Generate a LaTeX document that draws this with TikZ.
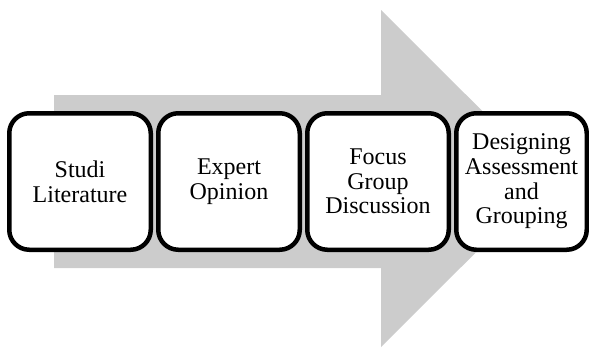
\documentclass[tikz,border=0pt]{standalone}
\usepackage{fontspec}
\setmainfont{Liberation Serif}
\usetikzlibrary{positioning}

\begin{document}
\begin{tikzpicture}[x=1pt, y=-1pt]
  \newcommand\stagegap{3pt}
  \newcommand\stagelw{4.5pt}

  \definecolor{arrowgray}{RGB}{204,204,204}

  \tikzset{bigarrow/.style={fill=arrowgray}}
  \tikzset{stagebox/.style={draw, line width=\stagelw, rounded corners=20pt, fill=white, minimum width=141.5pt, minimum height=136.5pt, inner sep=0pt, align=center, font=\fontsize{24}{24.7}\selectfont}}
  \tikzset{laststagebox/.style={stagebox, minimum width=130.5pt}}

  \clip (0,0) rectangle (589,349);
  \useasboundingbox (0,0) rectangle (589,349);

  % background arrow
  \fill[bigarrow] (54,95) -- (381,95) -- (381,10) -- (550,178.5) -- (381,347) -- (381,268) -- (54,268) -- cycle;

  \node[stagebox] at (80,181.5) (stage1) {Studi\\Literature};
  \foreach \index/\stagetext/\stagestyle [count=\previndex from 1] in {2/{Expert\\Opinion}/stagebox, 3/{Focus\\Group\\Discussion}/stagebox, 4/{Designing\\Assessment\\and\\Grouping}/laststagebox}{
    \node[\stagestyle, right=\stagegap of stage\previndex] (stage\index) {\stagetext};
  }
\end{tikzpicture}
\end{document}
